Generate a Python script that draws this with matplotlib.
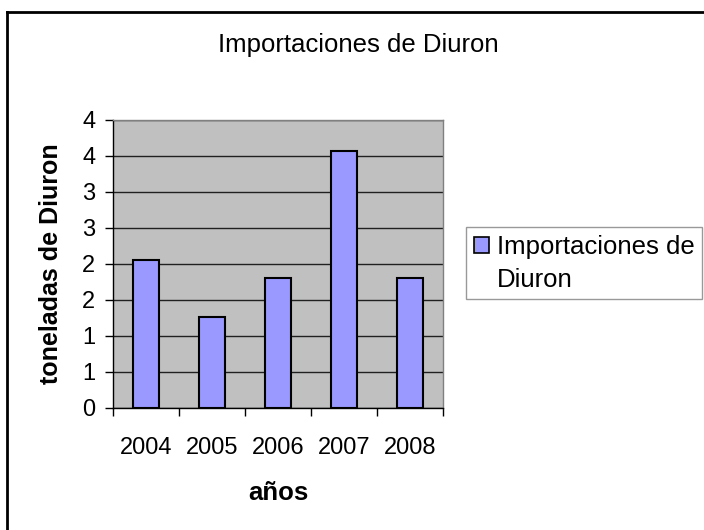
import numpy as np
import matplotlib
matplotlib.use("Agg")
import matplotlib.pyplot as plt
from matplotlib.patches import Patch
from matplotlib.lines import Line2D

# data
years = ["2004", "2005", "2006", "2007", "2008"]
imports = [2.05, 1.27, 1.80, 3.57, 1.80]
ytick_values = [0, 0.5, 1, 1.5, 2, 2.5, 3, 3.5, 4]
ytick_labels = ["0", "1", "1", "2", "2", "3", "3", "4", "4"]
series_name = ["Importaciones de", "Diuron"]

plt.rcParams["font.family"] = ["Liberation Sans", "DejaVu Sans"]
FS_TICK = 17
FS_TEXT = 18.5

fig = plt.figure(figsize=(7.04, 5.30), dpi=100)
W, H = 704.0, 530.0
# plot area in pixels: left 113, right 443, top 120, bottom 408
ax = fig.add_axes([113 / W, 1 - 408 / H, 330 / W, 288 / H])
ax.set_facecolor("#C0C0C0")

x = np.arange(len(years))
ax.bar(x, imports, width=0.4, color="#9999FF", edgecolor="black",
       linewidth=1.5, zorder=3)

ax.set_xlim(-0.5, len(years) - 0.5)
ax.set_ylim(0, 4)
ax.set_yticks(ytick_values)
ax.set_yticklabels(ytick_labels, fontsize=FS_TICK)
ax.yaxis.grid(True, color="#202020", linewidth=1.0, zorder=1)
ax.set_axisbelow(True)

ax.set_xticks(x)
ax.set_xticklabels(years, fontsize=FS_TICK)
ax.set_xticks(np.arange(len(years) + 1) - 0.5, minor=True)
ax.tick_params(axis="x", which="major", length=0, pad=21)
ax.tick_params(axis="x", which="minor", length=5.5, width=1, direction="out")
ax.tick_params(axis="y", length=5.8, width=1, direction="out", pad=7)

for side in ["left", "bottom"]:
    ax.spines[side].set_color("black")
    ax.spines[side].set_linewidth(1.0)
for side in ["top", "right"]:
    ax.spines[side].set_color("#808080")
    ax.spines[side].set_linewidth(1.0)

ax.set_ylabel("toneladas de Diuron", fontsize=18, fontweight="bold")
ax.yaxis.label.set_verticalalignment("center")
ax.yaxis.set_label_coords((51 - 113) / 330, 0.5)
ax.set_xlabel("años", fontsize=FS_TEXT, fontweight="bold")
ax.xaxis.label.set_verticalalignment("center")
ax.xaxis.set_label_coords(0.5, (408 - 493) / 288)

fig.text(358 / W, 1 - 45 / H, "Importaciones de Diuron", fontsize=FS_TEXT,
         ha="center", va="center")

handles = [Patch(facecolor="#9999FF", edgecolor="black", linewidth=1.2),
           Patch(facecolor="none", edgecolor="none")]
leg = fig.legend(handles, series_name, fontsize=FS_TEXT,
                 loc="upper left", bbox_to_anchor=(466 / W, 1 - 227 / H),
                 frameon=True, fancybox=False, borderpad=0.3,
                 labelspacing=0.35,
                 handlelength=0.58, handleheight=0.58, handletextpad=0.32,
                 borderaxespad=0)
leg.get_frame().set_edgecolor("#808080")
leg.get_frame().set_linewidth(1.0)

# chart area border (only top and left visible in the reference)
fig.add_artist(Line2D([7 / W, 7 / W], [0, 1 - 12 / H], color="black", lw=2))
fig.add_artist(Line2D([7 / W, 1], [1 - 12 / H, 1 - 12 / H], color="black", lw=2))

fig.savefig("out.png", dpi=100)
